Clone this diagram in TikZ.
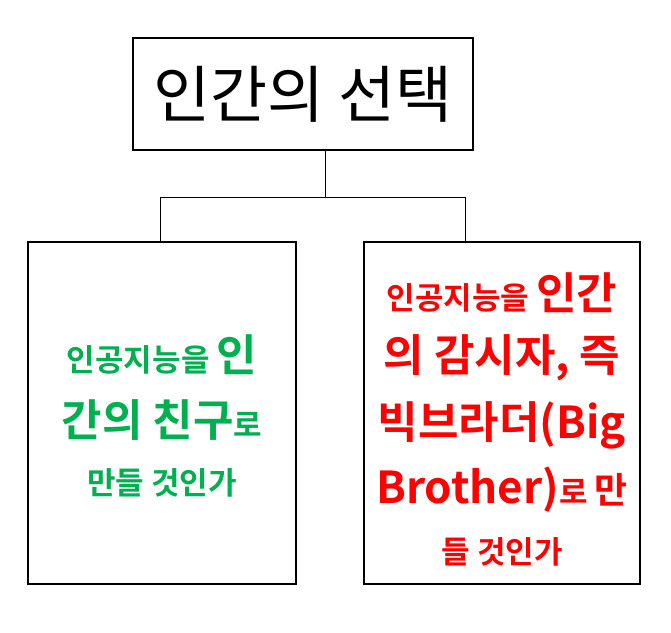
\documentclass[tikz,border=0pt]{standalone}
\usepackage{fontspec}
\newfontfamily\kr{Noto Sans CJK KR}
\newfontfamily\krb{Noto Sans CJK KR Bold}
\definecolor{grn}{RGB}{0,176,80}
\definecolor{rd}{RGB}{255,0,0}
\newcommand{\sm}{\fontsize{31}{36}\selectfont}
\newcommand{\bg}{\fontsize{44}{50}\selectfont}
\begin{document}
\begin{tikzpicture}[x=1pt,y=-1pt,
  boxst/.style={draw,line width=1.3pt},
  ln/.style={draw,line width=0.6pt},
  gt/.style={text=grn,font=\krb,anchor=center,inner sep=0},
  rt/.style={text=rd,font=\krb,anchor=center,inner sep=0}]
\useasboundingbox (0,0) rectangle (671,632);
\draw[boxst] (133,38) rectangle (473,150);
\node[font=\kr\fontsize{62}{70}\selectfont,inner sep=0] (t) at (303,94) {인간의 선택};
\coordinate (tb) at (325,150);
\coordinate (j) at (325,197);
\coordinate (lj) at (160,197);
\coordinate (rj) at (465,197);
\coordinate (lt) at (160,242);
\coordinate (rt0) at (465,242);
\draw[ln] (tb)--(j) (lj)--(rj) (lj)--(lt) (rj)--(rt0);
\draw[boxst] (28,242) rectangle (296,584);
\draw[boxst] (364,242) rectangle (640,584);
\node[gt] (l1) at (162,355) {\sm 인공지능을 \bg 인};
\node[gt] (l2) at (162,420) {\bg 간의 친구\sm 로};
\node[gt] (l3) at (162,483) {\sm 만들 것인가};
\node[rt] (r1) at (502,293) {\sm 인공지능을 \bg 인간};
\node[rt] (r2) at (502,358) {\bg 의 감시자, 즉};
\node[rt] (r3) at (502,425) {\bg 빅브라더(Big};
\node[rt] (r4) at (502,490) {\bg Brother)\sm 로 \fontsize{36}{40}\selectfont 만};
\node[rt] (r5) at (502,552) {\sm 들 것인가};
\end{tikzpicture}
\end{document}
